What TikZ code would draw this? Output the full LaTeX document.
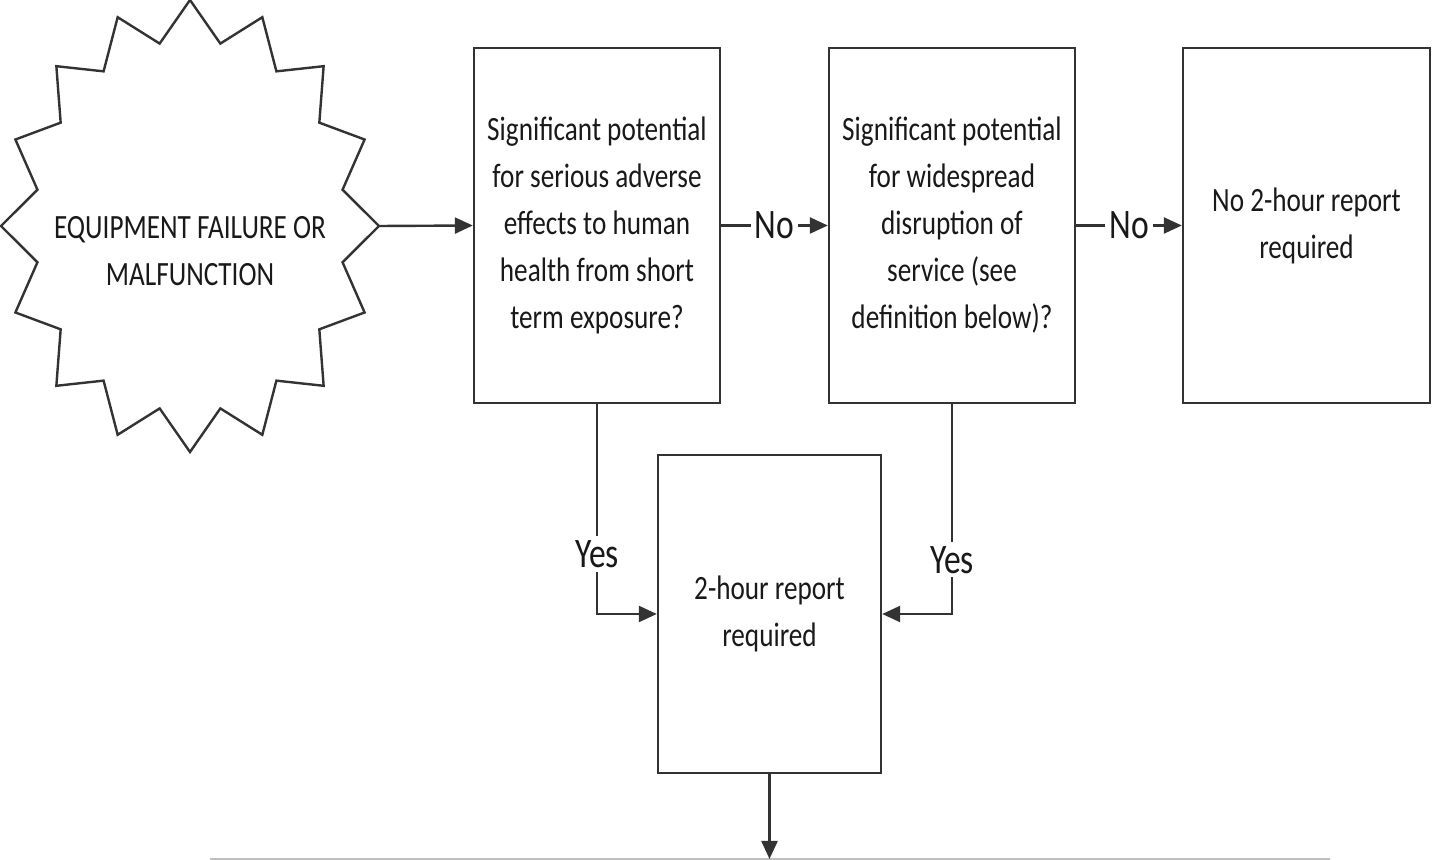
\documentclass[tikz,border=0pt]{standalone}
\usepackage{fontspec}
\setmainfont{Carlito}[FakeStretch=0.8]
\usetikzlibrary{arrows.meta}
\begin{document}
\begin{tikzpicture}[x=0.5pt,y=-0.5pt,
  ln/.style={draw=black!80, line width=1.2pt},
  arr/.style={ln, -{Triangle[length=9pt,width=8pt]}},
  box/.style={ln, fill=white, rectangle, inner sep=0pt, align=center,
    font=\fontsize{17pt}{23.5pt}\selectfont, text=black!90},
  lab/.style={fill=white, inner sep=2pt, font=\fontsize{21pt}{24pt}\selectfont, text=black!90},
  gline/.style={draw=black!25, line width=1pt}]
\useasboundingbox (0,0) rectangle (1432,860);
% starburst outline
\draw[ln, line join=miter] (379,226)
  \foreach \i [evaluate=\i as \r using {mod(\i,2)==0 ? 1 : 0.823}] in {1,...,31} {
    -- ({190+189*\r*cos(\i*11.25)}, {226-226*\r*sin(\i*11.25)})
  } -- cycle;
\node[minimum width=189pt, minimum height=226pt, inner sep=0pt] (burst) at (190,226) {};
\node[align=center, font=\fontsize{17pt}{23.5pt}\selectfont, text=black!90] (bursttext) at (190,251)
  {EQUIPMENT FAILURE OR\\MALFUNCTION};
% boxes
\node[box, minimum width=123pt, minimum height=177.5pt] (q1) at (597,225.5)
  {Significant potential\\for serious adverse\\effects to human\\health from short\\term exposure?};
\node[box, minimum width=123pt, minimum height=177.5pt] (q2) at (952,225.5)
  {Significant potential\\for widespread\\disruption of\\service (see\\definition below)?};
\node[box, minimum width=123.5pt, minimum height=177.5pt] (q3) at (1306.5,225.5)
  {No 2-hour report\\required};
\node[box, minimum width=111.5pt, minimum height=159pt] (r) at (769.5,614)
  {2-hour report\\required};
% bottom line
\coordinate (gl1) at (210,859);
\coordinate (gl2) at (1330,859);
\coordinate (end) at (769.5,859);
\draw[gline] (gl1) -- (gl2);
% connectors
\draw[arr] (burst.east) -- (q1.west);
\draw[arr] (q1.east) -- node[lab]{No} (q2.west);
\draw[arr] (q2.east) -- node[lab]{No} (q3.west);
\draw[arr] (q1.south) |- node[lab, pos=0.357]{Yes} (r.west);
\draw[arr] (q2.south) |- node[lab, pos=0.371]{Yes} (r.east);
\draw[arr] (r.south) -- (end);
\end{tikzpicture}
\end{document}
